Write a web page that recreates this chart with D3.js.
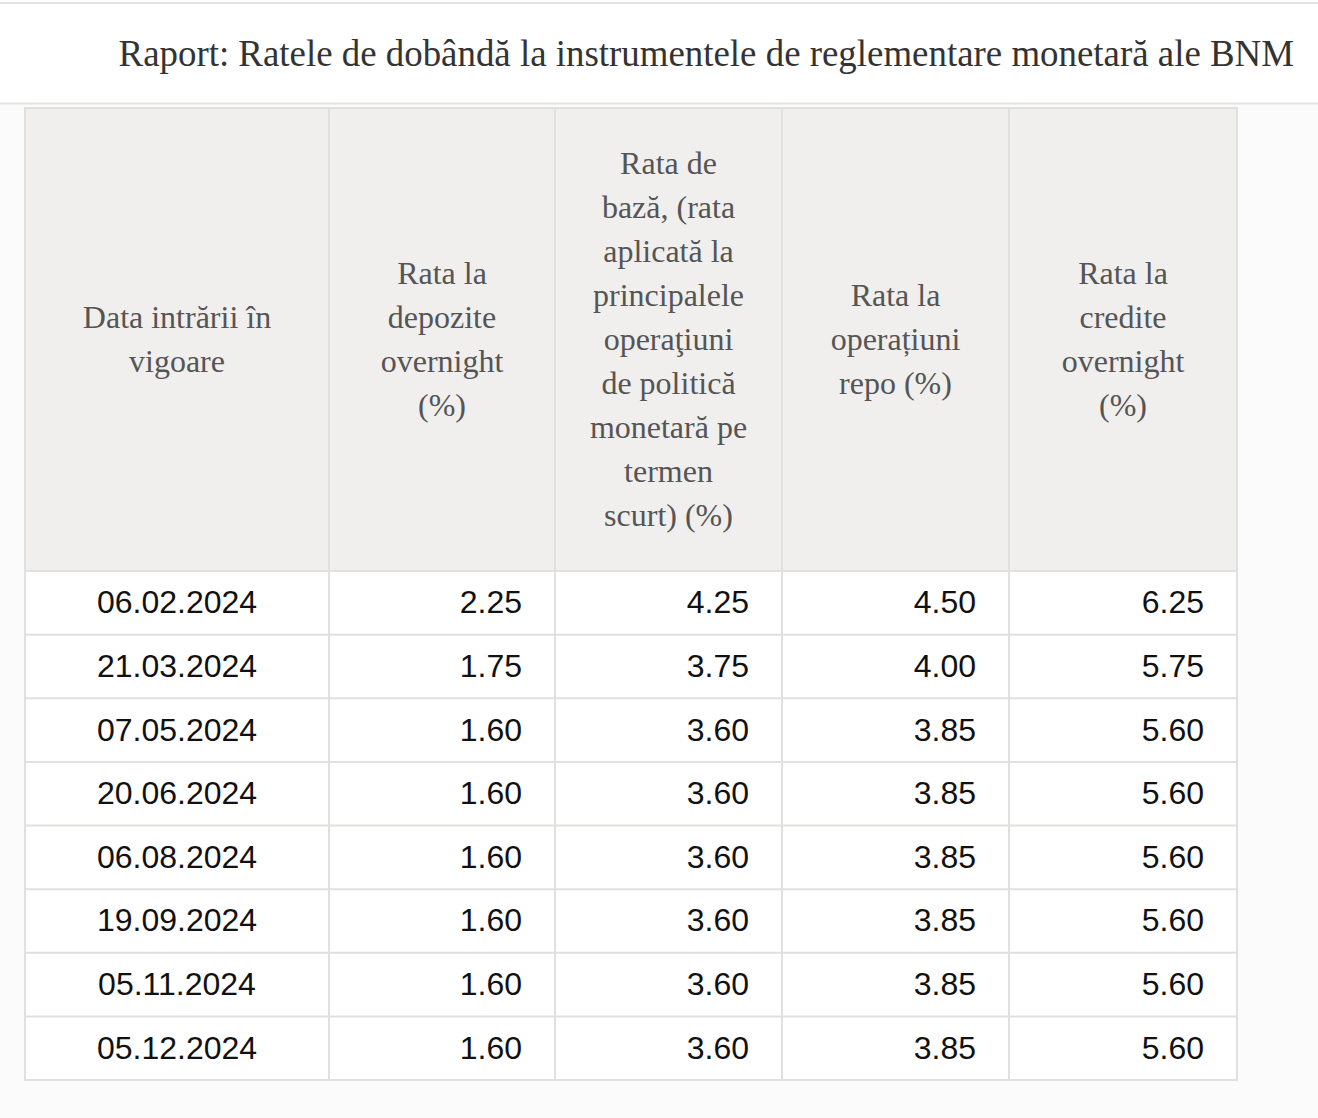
<!DOCTYPE html>
<html>
<head>
<meta charset="utf-8">
<script src="https://cdn.jsdelivr.net/npm/d3@7"></script>
<style>
  html, body { margin: 0; padding: 0; background: #fbfbfb; }
  svg { display: block; }
</style>
</head>
<body>
<svg id="chart" width="1318" height="1118"></svg>
<script>
const title = "Raport: Ratele de dobândă la instrumentele de reglementare monetară ale BNM";

const headers = [
  ["Data intrării în", "vigoare"],
  ["Rata la", "depozite", "overnight", "(%)"],
  ["Rata de", "bază, (rata", "aplicată la", "principalele", "operaţiuni", "de politică", "monetară pe", "termen", "scurt) (%)"],
  ["Rata la", "operațiuni", "repo (%)"],
  ["Rata la", "credite", "overnight", "(%)"]
];

const dates = ["06.02.2024", "21.03.2024", "07.05.2024", "20.06.2024", "06.08.2024", "19.09.2024", "05.11.2024", "05.12.2024"];
const depositRates = [2.25, 1.75, 1.60, 1.60, 1.60, 1.60, 1.60, 1.60];
const baseRates    = [4.25, 3.75, 3.60, 3.60, 3.60, 3.60, 3.60, 3.60];
const repoRates    = [4.50, 4.00, 3.85, 3.85, 3.85, 3.85, 3.85, 3.85];
const creditRates  = [6.25, 5.75, 5.60, 5.60, 5.60, 5.60, 5.60, 5.60];

const series = [depositRates, baseRates, repoRates, creditRates];
const colWeights = [304, 226, 227, 227, 228];

const svg = d3.select("#chart");
const W = 1318, H = 1118;

// Backgrounds
svg.append("rect").attr("x", 0).attr("y", 0).attr("width", W).attr("height", H).attr("fill", "#fbfbfb");
svg.append("rect").attr("x", 0).attr("y", 0).attr("width", W).attr("height", 103).attr("fill", "#ffffff");
svg.append("rect").attr("x", 0).attr("y", 2).attr("width", W).attr("height", 2).attr("fill", "#e2e2e0");
svg.append("rect").attr("x", 0).attr("y", 102.5).attr("width", W).attr("height", 2).attr("fill", "#e2e2e0");

// Title, fitted to reference width
const titleText = svg.append("text")
  .attr("x", 1294).attr("y", 66)
  .attr("text-anchor", "end")
  .attr("font-family", "'Liberation Serif', 'Times New Roman', serif")
  .attr("font-size", 34)
  .attr("fill", "#333333")
  .text(title);
const tw = titleText.node().getComputedTextLength();
titleText.attr("font-size", 34 * 1176 / tw);

// Scales
const cum = [0];
colWeights.forEach(w => cum.push(cum[cum.length - 1] + w));
const x = d3.scaleLinear().domain([0, cum[cum.length - 1]]).range([25, 1237]);
const colLeft = i => x(cum[i]);
const colRight = i => x(cum[i + 1]);

const headerTop = 108, headerBottom = 571, tableBottom = 1080;
const y = d3.scaleBand().domain(dates).range([headerBottom, tableBottom]).padding(0);

const table = svg.append("g");

// Header background
table.append("rect")
  .attr("x", x(0)).attr("y", headerTop)
  .attr("width", x(cum[cum.length - 1]) - x(0)).attr("height", headerBottom - headerTop)
  .attr("fill", "#f0efed");
// Body background
table.append("rect")
  .attr("x", x(0)).attr("y", headerBottom)
  .attr("width", x(cum[cum.length - 1]) - x(0)).attr("height", tableBottom - headerBottom)
  .attr("fill", "#ffffff");

// Header text
const lineH = 44;
const headerMid = (headerTop + headerBottom) / 2;
headers.forEach((lines, i) => {
  const cx = (colLeft(i) + colRight(i)) / 2;
  const t = table.append("text")
    .attr("text-anchor", "middle")
    .attr("font-family", "'Liberation Serif', 'Times New Roman', serif")
    .attr("font-size", 32)
    .attr("fill", "#555555");
  const n = lines.length;
  lines.forEach((ln, k) => {
    t.append("tspan")
      .attr("x", cx)
      .attr("y", headerMid + (k - (n - 1) / 2) * lineH + 10)
      .text(ln);
  });
});

// Body text
const bodyFont = "'Liberation Sans', Arial, sans-serif";
table.selectAll("text.date")
  .data(dates)
  .join("text")
  .attr("class", "date")
  .attr("x", (colLeft(0) + colRight(0)) / 2)
  .attr("y", d => y(d) + y.bandwidth() / 2 + 10.5)
  .attr("text-anchor", "middle")
  .attr("font-family", bodyFont)
  .attr("font-size", 32)
  .attr("fill", "#111111")
  .text(d => d);

series.forEach((vals, s) => {
  table.selectAll("text.s" + s)
    .data(vals)
    .join("text")
    .attr("class", "s" + s)
    .attr("x", colRight(s + 1) - 33)
    .attr("y", (d, i) => y(dates[i]) + y.bandwidth() / 2 + 10.5)
    .attr("text-anchor", "end")
    .attr("font-family", bodyFont)
    .attr("font-size", 32)
    .attr("fill", "#111111")
    .text(d => d3.format(".2f")(d));
});

// Grid lines
const lineColor = "#e0e0de";
const hLines = [headerTop, headerBottom].concat(dates.slice(1).map(d => y(d)), [tableBottom]);
table.selectAll("line.h")
  .data(hLines)
  .join("line")
  .attr("class", "h")
  .attr("x1", x(0)).attr("x2", x(cum[cum.length - 1]))
  .attr("y1", d => d).attr("y2", d => d)
  .attr("stroke", lineColor).attr("stroke-width", 2);
table.selectAll("line.v")
  .data(cum)
  .join("line")
  .attr("class", "v")
  .attr("x1", d => x(d)).attr("x2", d => x(d))
  .attr("y1", headerTop - 1).attr("y2", tableBottom + 1)
  .attr("stroke", lineColor).attr("stroke-width", 2);
</script>
</body>
</html>
